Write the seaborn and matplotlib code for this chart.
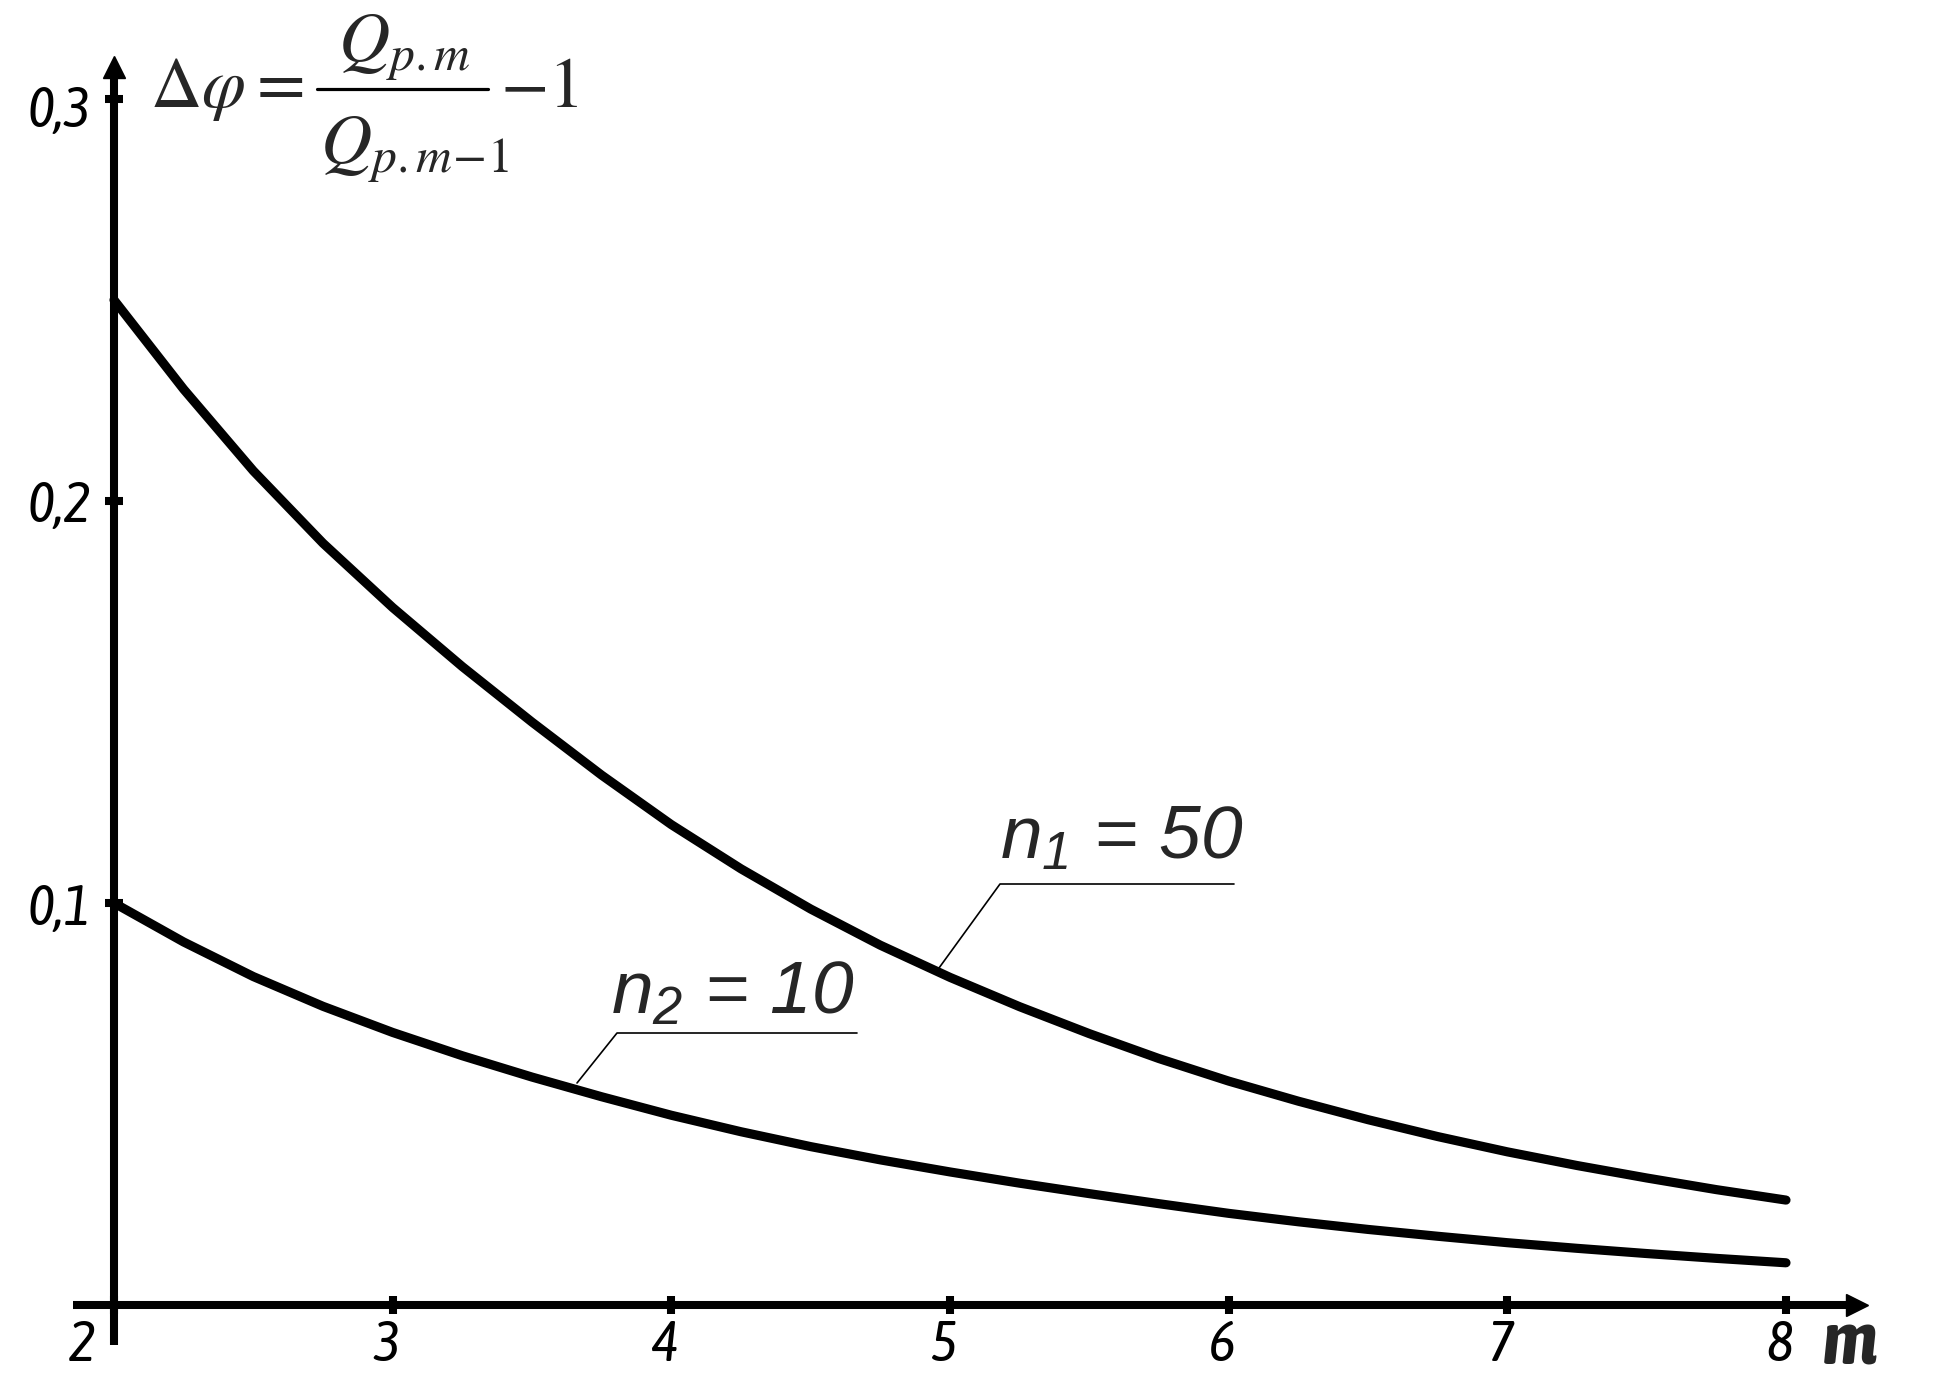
import numpy as np
import pandas as pd
import matplotlib
matplotlib.use("Agg")
import matplotlib.pyplot as plt
from matplotlib import font_manager
from matplotlib.transforms import ScaledTranslation
from matplotlib.lines import Line2D
import seaborn as sns

# ---- data ----
m_values = [2.00, 2.25, 2.50, 2.75, 3.00, 3.25, 3.50, 3.75, 4.00, 4.25, 4.50, 4.75, 5.00,
            5.25, 5.50, 5.75, 6.00, 6.25, 6.50, 6.75, 7.00, 7.25, 7.50, 7.75, 8.00]
dphi_n50 = [0.2500, 0.2278, 0.2075, 0.1895, 0.1735, 0.1588, 0.1450, 0.1318, 0.1195, 0.1085,
            0.0985, 0.0895, 0.0815, 0.0742, 0.0675, 0.0613, 0.0557, 0.0507, 0.0461, 0.0419,
            0.0381, 0.0347, 0.0316, 0.0287, 0.0261]
dphi_n10 = [0.1000, 0.0903, 0.0817, 0.0743, 0.0678, 0.0620, 0.0567, 0.0518, 0.0472, 0.0431,
            0.0394, 0.0361, 0.0331, 0.0303, 0.0277, 0.0252, 0.0228, 0.0207, 0.0188, 0.0171,
            0.0155, 0.0141, 0.0128, 0.0116, 0.0105]
series_labels = ["n1 = 50", "n2 = 10"]
x_ticks = [2, 3, 4, 5, 6, 7, 8]
x_tick_labels = ["2", "3", "4", "5", "6", "7", "8"]
y_ticks = [0.1, 0.2, 0.3]
y_tick_labels = ["0,1", "0,2", "0,3"]

df = pd.concat([
    pd.DataFrame({"m": m_values, "dphi": dphi_n50, "n": series_labels[0]}),
    pd.DataFrame({"m": m_values, "dphi": dphi_n10, "n": series_labels[1]}),
])

sns.set_style("white")
plt.rcParams["font.family"] = ["Liberation Sans", "DejaVu Sans"]
plt.rcParams["mathtext.fontset"] = "custom"
plt.rcParams["mathtext.it"] = "Liberation Sans:italic"
plt.rcParams["mathtext.rm"] = "Liberation Sans:italic"

# narrow italic font for tick labels if available
names = {f.name for f in font_manager.fontManager.ttflist}
if "Liberation Sans Narrow" in names:
    narrow = dict(family="Liberation Sans Narrow", stretch="normal")
else:
    cands = sorted(f.name for f in font_manager.fontManager.ttflist if "Condensed" in f.name)
    if cands:
        narrow = dict(family=cands[0], stretch="condensed")
    else:
        narrow = dict(family="DejaVu Sans", stretch="condensed")

W, H = 1942, 1400
DPI = 100
fig = plt.figure(figsize=(W / DPI, H / DPI), dpi=DPI, facecolor="white")
ax = fig.add_axes([0, 0, 1, 1])

# pixel layout of the axes frame
X2_PX, X8_PX = 114, 1786
Y0_PX, Y01_PX = 1305, 402  # y=0 row, pixels per 0.1
pxx = (X8_PX - X2_PX) / 6.0
pxy = Y01_PX / 0.1
ax.set_xlim(2 - X2_PX / pxx, 2 + (W - X2_PX) / pxx)
ax.set_ylim(-(H - Y0_PX) / pxy, Y0_PX / pxy)

sns.lineplot(data=df, x="m", y="dphi", hue="n", palette=["black", "black"],
             linewidth=6.6, legend=False, ax=ax, solid_capstyle="round",
             solid_joinstyle="round")

# axes as spines
for s in ["top", "right"]:
    ax.spines[s].set_visible(False)
ax.spines["left"].set_position(("data", 2))
ax.spines["bottom"].set_position(("data", 0))
ax.spines["left"].set_bounds(-(1345 - Y0_PX) / pxy, (Y0_PX - 76) / pxy)
ax.spines["bottom"].set_bounds(2 - (X2_PX - 73) / pxx, 2 + (1848 - X2_PX) / pxx)
for s in ["left", "bottom"]:
    ax.spines[s].set_linewidth(5.8)
    ax.spines[s].set_color("black")
    ax.spines[s].set_capstyle("butt")

# arrow heads
ax.plot(2, (Y0_PX - 67) / pxy, marker="^", ms=16, color="black", clip_on=False)
ax.plot(2 + (1857 - X2_PX) / pxx, 0, marker=">", ms=16, color="black", clip_on=False)

ax.set_xticks(x_ticks, labels=x_tick_labels)
ax.set_yticks(y_ticks, labels=y_tick_labels)
ax.tick_params(axis="both", bottom=True, left=True, direction="inout", length=12.5,
               width=5.8, color="black", labelcolor="black")
ax.tick_params(axis="x", pad=3)
ax.tick_params(axis="y", pad=10)
fp = font_manager.FontProperties(family=narrow["family"], stretch=narrow["stretch"],
                                 style="italic", size=41)
for lab in ax.get_xticklabels() + ax.get_yticklabels():
    lab.set_fontproperties(fp)
for lab in ax.get_xticklabels():
    dx = -32 if lab.get_text() == "2" else -6
    lab.set_transform(lab.get_transform() + ScaledTranslation(dx / DPI, 0, fig.dpi_scale_trans))
for lab in ax.get_yticklabels():
    dy = -6 if lab.get_text() == "0,3" else 0
    lab.set_transform(lab.get_transform() + ScaledTranslation(0, dy / DPI, fig.dpi_scale_trans))
ax.set_xlabel("")
ax.set_ylabel("")


def fx(p):
    return p / W


def fy(p):
    return 1 - p / H


# axis name m
fig.text(fx(1849), fy(1344), "m", ha="center", va="center", fontsize=54,
         family=narrow["family"], stretch=narrow["stretch"], style="italic", weight="semibold")

# formula  Δφ = Q_{p.m} / Q_{p.m-1} - 1
FS = 51
fig.text(fx(150), fy(107), r"$\Delta\varphi$", ha="left", va="baseline", fontsize=FS,
         math_fontfamily="stix")
fig.text(fx(257), fy(106), "=", ha="left", va="baseline", fontsize=FS,
         family="STIXGeneral")
fig.text(fx(338), fy(62), r"$Q_{p.m}$", ha="left", va="baseline", fontsize=FS,
         math_fontfamily="stix")
fig.text(fx(320), fy(164), r"$Q_{p.m\!-\!1}$", ha="left", va="baseline", fontsize=FS,
         math_fontfamily="stix")
fig.add_artist(Line2D([fx(317), fx(488)], [fy(89), fy(89)], transform=fig.transFigure,
                      color="black", lw=2.3))
fig.text(fx(500), fy(107), r"$-1$", ha="left", va="baseline", fontsize=FS,
         math_fontfamily="stix")

# series labels with leader lines
fig.text(fx(1000), fy(858), r"$n_1$ = 50", ha="left", va="baseline", fontsize=54,
         style="italic", family="Liberation Sans")
fig.text(fx(611), fy(1013), r"$n_2$ = 10", ha="left", va="baseline", fontsize=54,
         style="italic", family="Liberation Sans")
for (x0, y0, x1, x2, y1) in [(939, 968, 1000, 1234, 884), (577, 1083, 617, 857, 1033)]:
    fig.add_artist(Line2D([fx(x0), fx(x1), fx(x2)], [fy(y0), fy(y1), fy(y1)],
                          transform=fig.transFigure, color="black", lw=1.2))

fig.savefig("out.png", dpi=DPI, facecolor="white")
